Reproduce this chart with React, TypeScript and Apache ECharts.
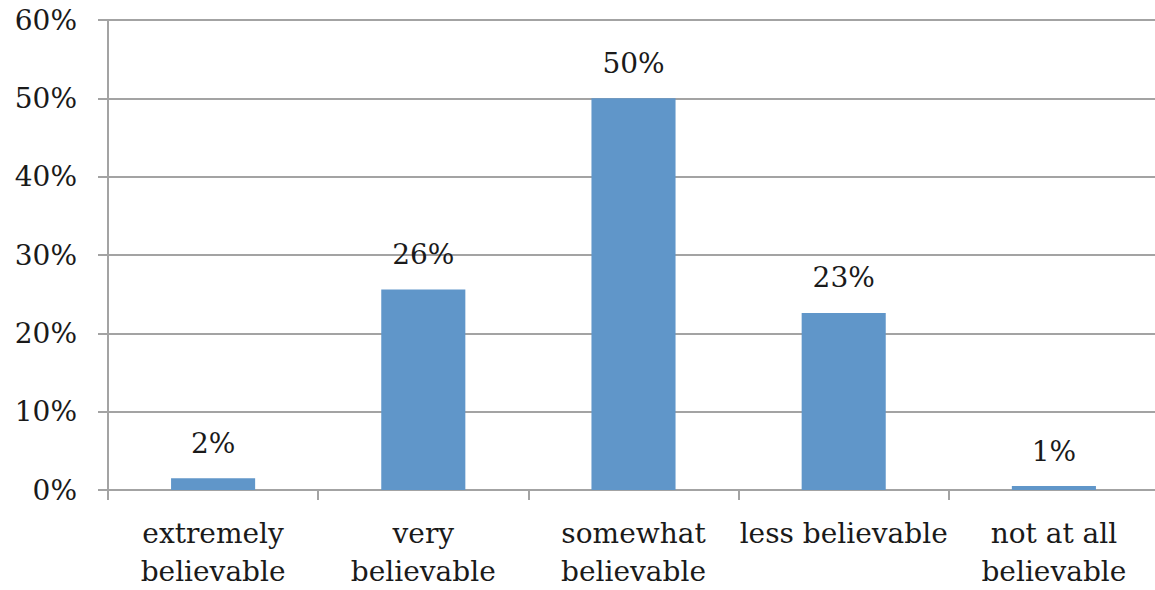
import React, { useEffect, useRef } from "react";
import * as echarts from "echarts";

const categories = [
  "extremely\nbelievable",
  "very\nbelievable",
  "somewhat\nbelievable",
  "less believable",
  "not at all\nbelievable",
];
const shares = [1.5, 25.6, 50, 22.6, 0.5];
const yTicks = [0, 10, 20, 30, 40, 50, 60];

const FONT = "'DejaVu Serif', 'Liberation Serif', serif";
const GRAY = "#a3a3a3";

export default function App() {
  const ref = useRef<HTMLDivElement>(null);

  useEffect(() => {
    document.body.style.margin = "0";
    const chart = echarts.init(ref.current!, null, { renderer: "svg" });
    chart.setOption({
      animation: false,
      backgroundColor: "#ffffff",
      grid: { left: 108, right: -4, top: 20, bottom: 100, outerBoundsMode: "none" },
      xAxis: {
        type: "category",
        data: categories,
        axisLine: { lineStyle: { color: GRAY, width: 2 } },
        axisTick: { show: true, length: 10, lineStyle: { color: GRAY, width: 2 } },
        axisLabel: {
          color: "#1a1a1a",
          fontFamily: FONT,
          fontSize: 28,
          lineHeight: 38,
          margin: 24,
          interval: 0,
        },
      },
      yAxis: {
        type: "value",
        min: yTicks[0],
        max: yTicks[yTicks.length - 1],
        interval: 10,
        axisLine: { show: true, lineStyle: { color: GRAY, width: 2 } },
        axisTick: { show: true, length: 10, lineStyle: { color: GRAY, width: 2 } },
        splitLine: { lineStyle: { color: GRAY, width: 2 } },
        axisLabel: {
          color: "#1a1a1a",
          fontFamily: FONT,
          fontSize: 28,
          margin: 31,
          formatter: (v: number) => `${v}%`,
        },
      },
      series: [
        {
          type: "bar",
          data: shares,
          barWidth: "40%",
          itemStyle: { color: "#6096c9" },
          label: {
            show: true,
            position: "top",
            distance: 21,
            color: "#1a1a1a",
            fontFamily: FONT,
            fontSize: 28,
            formatter: (p: any) => `${Math.round(p.value)}%`,
          },
        },
      ],
    });
    return () => chart.dispose();
  }, []);

  return <div ref={ref} style={{ width: 1155, height: 590 }} />;
}
